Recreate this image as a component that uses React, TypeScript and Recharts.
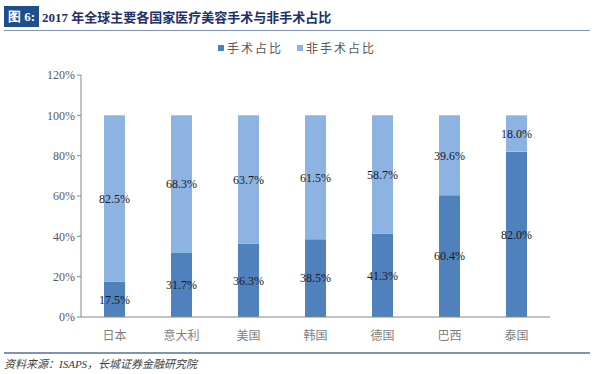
import React from 'react';
import { BarChart, Bar, XAxis, YAxis, LabelList } from 'recharts';

const countries = ['日本', '意大利', '美国', '韩国', '德国', '巴西', '泰国'];
const surgical = [17.5, 31.7, 36.3, 38.5, 41.3, 60.4, 82.0];
const nonSurgical = [82.5, 68.3, 63.7, 61.5, 58.7, 39.6, 18.0];
const yTicks = [0, 20, 40, 60, 80, 100, 120];

const DARK = '#4f81bd';
const LIGHT = '#8db3e2';
const serif = '"Liberation Serif", "Times New Roman", serif';
const cjk = '"Noto Sans CJK SC", sans-serif';

const data = countries.map((name, i) => ({
  name,
  idx: i + 0.5,
  surgical: surgical[i],
  nonSurgical: nonSurgical[i],
}));

const fmt = (v: number) => `${v.toFixed(1)}%`;

const legendItems = [
  { label: '手术占比', color: DARK },
  { label: '非手术占比', color: LIGHT },
];

const App: React.FC = () => {
  return (
    <div style={{ position: 'absolute', left: 0, top: 0, width: 594, height: 374, background: '#fff', overflow: 'hidden' }}>
      <div style={{ position: 'absolute', left: 4, top: 6, height: 21, display: 'flex', alignItems: 'center', fontFamily: serif, fontWeight: 'bold', fontSize: 13 }}>
        <span style={{ background: '#1f4e8c', color: '#fff', padding: '0 4px', height: 21, lineHeight: '21px' }}>图 6:</span>
        <span style={{ color: '#1f2f6b', marginLeft: 3, fontFamily: '"Liberation Serif", "Noto Sans CJK SC", serif' }}>2017 年全球主要各国家医疗美容手术与非手术占比</span>
      </div>
      <div style={{ position: 'absolute', left: 4, right: 4, top: 30, height: 1, background: '#7f93b3' }} />

      <div style={{ position: 'absolute', left: 0, top: 39, width: 594, display: 'flex', justifyContent: 'center', gap: 14, fontFamily: cjk, fontSize: 12, color: '#595959', letterSpacing: 2 }}>
        {legendItems.map(item => (
          <span key={item.label} style={{ display: 'flex', alignItems: 'center' }}>
            <span style={{ display: 'inline-block', width: 6, height: 6, background: item.color, marginRight: 3 }} />
            {item.label}
          </span>
        ))}
      </div>

      <BarChart
        width={594}
        height={374}
        data={data}
        barSize={21}
        margin={{ top: 75, right: 44, bottom: 27, left: 0 }}
        style={{ position: 'absolute', left: 0, top: 0 }}
      >
        <XAxis
          xAxisId="grid"
          type="number"
          dataKey="idx"
          domain={[0, 7]}
          ticks={[0, 1, 2, 3, 4, 5, 6, 7]}
          height={0}
          tick={false}
          axisLine={false}
          tickLine={{ stroke: '#868686' }}
          tickSize={5}
        />
        <XAxis
          dataKey="name"
          height={30}
          axisLine={{ stroke: '#868686' }}
          tickLine={false}
          tick={{ fill: '#7f7f7f', fontSize: 12, fontFamily: cjk }}
          tickMargin={8}
        />
        <YAxis
          width={81}
          domain={[0, 120]}
          ticks={yTicks}
          tickFormatter={(v: number) => `${v}%`}
          axisLine={{ stroke: '#868686' }}
          tickLine={{ stroke: '#868686' }}
          tickSize={4}
          tick={{ fill: '#595959', fontSize: 12, fontFamily: serif }}
        />
        <Bar dataKey="surgical" stackId="a" fill={DARK} isAnimationActive={false}>
          <LabelList dataKey="surgical" position="center" formatter={fmt} style={{ fill: '#1a1a1a', fontSize: 12, fontFamily: serif }} />
        </Bar>
        <Bar dataKey="nonSurgical" stackId="a" fill={LIGHT} isAnimationActive={false}>
          <LabelList dataKey="nonSurgical" position="center" formatter={fmt} style={{ fill: '#1a1a1a', fontSize: 12, fontFamily: serif }} />
        </Bar>
      </BarChart>

      <div style={{ position: 'absolute', left: 4, right: 4, top: 352, height: 2, background: '#7f93b3' }} />
      <div style={{ position: 'absolute', left: 4, top: 355, fontFamily: '"Liberation Serif", "Noto Sans CJK SC", serif', fontStyle: 'italic', fontSize: 11, color: '#404040' }}>
        资料来源：ISAPS，长城证券金融研究院
      </div>
    </div>
  );
};

export default App;
